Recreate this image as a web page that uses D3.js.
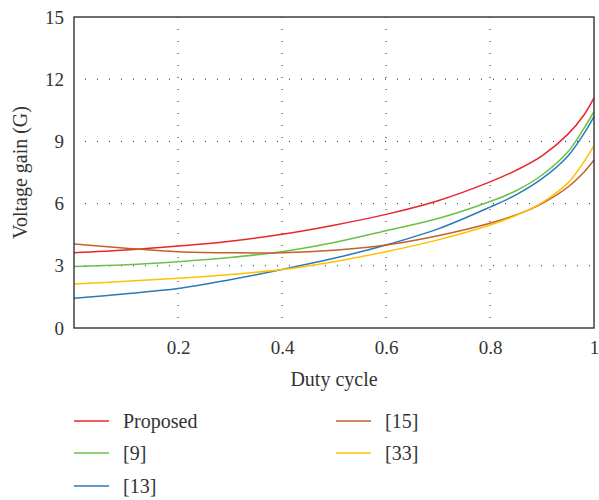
<!DOCTYPE html>
<html>
<head>
<meta charset="utf-8">
<script src="https://cdn.jsdelivr.net/npm/d3@7"></script>
<style>
  body { margin: 0; background: #fff; }
  text { font-family: "Liberation Serif", "Times New Roman", serif; fill: #333; }
</style>
</head>
<body>
<div id="chart"></div>
<script>
// duty cycle samples
const duty = [0, 0.1, 0.2, 0.3, 0.4, 0.5, 0.6, 0.7, 0.8, 0.85, 0.9, 0.95, 0.98, 1.0];

// gain values
const proposed = [3.63, 3.76, 3.95, 4.18, 4.52, 4.96, 5.48, 6.14, 7.05, 7.6, 8.3, 9.35, 10.25, 11.1];
const ref9     = [2.97, 3.05, 3.2, 3.4, 3.68, 4.12, 4.69, 5.28, 6.1, 6.62, 7.38, 8.5, 9.6, 10.43];
const ref13    = [1.43, 1.65, 1.9, 2.33, 2.82, 3.36, 4.0, 4.78, 5.83, 6.42, 7.2, 8.3, 9.35, 10.2];
const ref15    = [4.05, 3.85, 3.68, 3.63, 3.63, 3.75, 4.0, 4.45, 5.05, 5.45, 6.0, 6.8, 7.5, 8.1];
const ref33    = [2.12, 2.25, 2.4, 2.58, 2.82, 3.2, 3.68, 4.25, 4.97, 5.43, 6.05, 7.0, 8.0, 8.8];

const seriesNames = ["Proposed", "[9]", "[13]", "[15]", "[33]"];
const seriesVals = [proposed, ref9, ref13, ref15, ref33];
const colors = ["#e8262b", "#6cbf47", "#2a7ab8", "#c0622a", "#ffc000"];

const xTicks = [0.2, 0.4, 0.6, 0.8, 1];
const yTicks = [0, 3, 6, 9, 12, 15];

const svgWidth = 599;
const svgHeight = 500;
const margin = { top: 17, right: 5, bottom: 172, left: 74 };
const width = svgWidth - margin.left - margin.right;
const height = svgHeight - margin.top - margin.bottom;

const svg = d3.select("#chart").append("svg")
    .attr("width", svgWidth)
    .attr("height", svgHeight);

const chartGroup = svg.append("g")
    .attr("transform", `translate(${margin.left}, ${margin.top})`);

const xScale = d3.scaleLinear().domain([0, 1]).range([0, width]);
const yScale = d3.scaleLinear().domain([0, 15]).range([height, 0]);

// dotted grid
chartGroup.append("g")
    .selectAll("line")
    .data(xTicks.filter(d => d < 1))
    .enter().append("line")
    .attr("x1", d => xScale(d)).attr("x2", d => xScale(d))
    .attr("y1", 0).attr("y2", height)
    .attr("stroke", "#222").attr("stroke-width", 1)
    .attr("stroke-dasharray", "1,11");

chartGroup.append("g")
    .selectAll("line")
    .data(yTicks.filter(d => d > 0 && d < 15))
    .enter().append("line")
    .attr("x1", 0).attr("x2", width)
    .attr("y1", d => yScale(d)).attr("y2", d => yScale(d))
    .attr("stroke", "#222").attr("stroke-width", 1)
    .attr("stroke-dasharray", "1,11")
    .attr("stroke-dashoffset", -11);

// axes (labels only)
const bottomAxis = d3.axisBottom(xScale).tickValues(xTicks).tickSize(0).tickPadding(13)
    .tickFormat(d => d3.format("")(d));
const leftAxis = d3.axisLeft(yScale).tickValues(yTicks).tickSize(0).tickPadding(10);

const xAxis = chartGroup.append("g")
    .attr("transform", `translate(0, ${height})`)
    .call(bottomAxis);
const yAxis = chartGroup.append("g").call(leftAxis);

[xAxis, yAxis].forEach(a => {
    a.select(".domain").remove();
    a.selectAll("text")
        .style("font-family", "'Liberation Serif', serif")
        .style("font-size", "19px")
        .attr("fill", "#333");
});

// curves
const line = d3.line()
    .x((d, i) => xScale(duty[i]))
    .y(d => yScale(d))
    .curve(d3.curveCatmullRom);

chartGroup.append("g")
    .selectAll("path")
    .data(seriesVals)
    .enter().append("path")
    .attr("d", d => line(d))
    .attr("fill", "none")
    .attr("stroke", (d, i) => colors[i])
    .attr("stroke-width", 1.5);

// frame
chartGroup.append("rect")
    .attr("x", 0).attr("y", 0)
    .attr("width", width).attr("height", height)
    .attr("fill", "none")
    .attr("stroke", "#333")
    .attr("stroke-width", 1.4);

// axis titles
svg.append("text")
    .attr("x", margin.left + width / 2)
    .attr("y", 386)
    .attr("text-anchor", "middle")
    .style("font-size", "20px")
    .text("Duty cycle");

svg.append("text")
    .attr("transform", `translate(27, ${margin.top + height / 2}) rotate(-90)`)
    .attr("text-anchor", "middle")
    .style("font-size", "20px")
    .text("Voltage gain (G)");

// legend
const legendPos = [
    { x: 74, y: 421 }, { x: 74, y: 453 }, { x: 74, y: 486 },
    { x: 336, y: 421 }, { x: 336, y: 453 }
];
const legend = svg.append("g");
seriesNames.forEach((name, i) => {
    const p = legendPos[i];
    legend.append("line")
        .attr("x1", p.x).attr("x2", p.x + 35)
        .attr("y1", p.y).attr("y2", p.y)
        .attr("stroke", colors[i]).attr("stroke-width", 1.6);
    legend.append("text")
        .attr("x", p.x + 49).attr("y", p.y + 7)
        .style("font-size", "20px")
        .text(name);
});
</script>
</body>
</html>
